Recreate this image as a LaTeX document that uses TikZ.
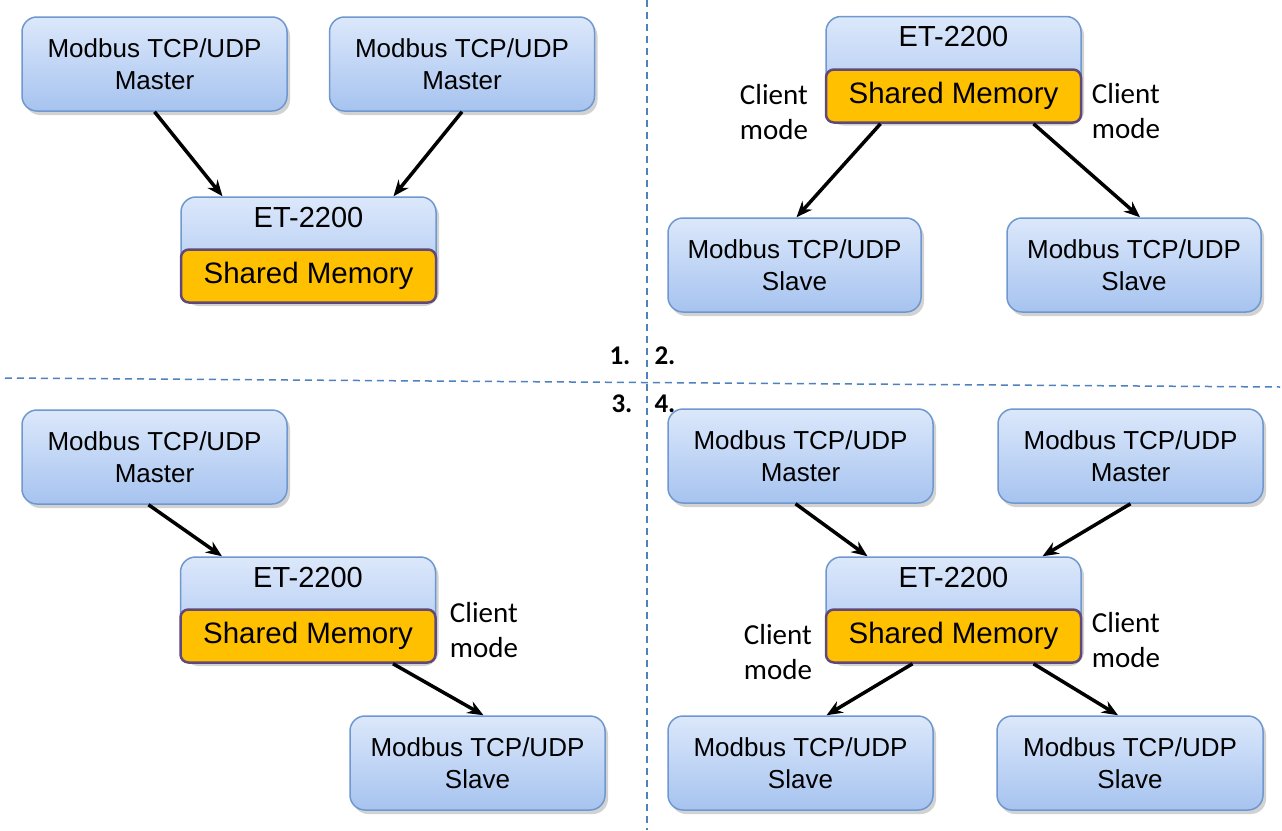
\documentclass[tikz,border=0pt]{standalone}
\usepackage{fontspec}
\setmainfont{Liberation Sans}
\newfontfamily\calib{Carlito}
\usetikzlibrary{shadows,arrows.meta}
\definecolor{boxtop}{HTML}{DCE8FB}
\definecolor{boxbot}{HTML}{A6C3EF}
\definecolor{boxline}{HTML}{6E98CF}
\definecolor{smfill}{HTML}{FFC000}
\definecolor{smline}{HTML}{60497A}
\definecolor{dashc}{HTML}{4F81BD}
\tikzset{
  bluebox/.style={draw=boxline, line width=1.5pt, rounded corners=15pt, top color=boxtop, bottom color=boxbot,
    drop shadow={shadow xshift=3pt, shadow yshift=-4pt, opacity=0.35, fill=gray},
    align=center, inner sep=0pt, font=\fontsize{26}{32}\selectfont},
  mbox/.style={bluebox, minimum width=265pt, minimum height=94pt},
  etbox/.style={bluebox, minimum width=255pt, minimum height=105pt, font=\fontsize{29}{32}\selectfont,
    text height=20pt, text depth=65pt},
  smbox/.style={draw=smline, line width=2.5pt, rounded corners=8pt, fill=smfill, minimum width=255pt,
    minimum height=53pt, inner sep=0pt, font=\fontsize{29.5}{32}\selectfont},
  cmode/.style={align=left, inner sep=0pt, font=\calib\fontsize{29}{35}\selectfont},
  num/.style={inner sep=0pt, font=\calib\bfseries\fontsize{27}{32}\selectfont},
  arr/.style={-{Stealth[length=16pt,width=13pt]}, line width=3.5pt, black},
  sep/.style={dashc, line width=1.5pt, dash pattern=on 7pt off 5pt}
}
\begin{document}
\begin{tikzpicture}[x=1pt,y=-1pt]
\useasboundingbox (0,0) rectangle (1282,830);
\fill[white] (0,0) rectangle (1282,830);
% separators
\coordinate (vt) at (647,0); \coordinate (vb) at (647,830);
\coordinate (hl) at (5,378); \coordinate (hr) at (1280,387);
\draw[sep] (vt) -- (vb);
\draw[sep] (hl) -- (hr);
\node[num] (n1) at (620,356) {1.};
\node[num] (n2) at (665,356) {2.};
\node[num] (n3) at (622,404) {3.};
\node[num] (n4) at (665,404) {4.};

% ---------- Quadrant 1
\node[mbox] (q1m1) at (154.5,64) {Modbus TCP/UDP\\Master};
\node[mbox] (q1m2) at (462,64) {Modbus TCP/UDP\\Master};
\node[etbox] (q1et) at (308.5,249.5) {ET-2200};
\node[smbox] (q1sm) at (308.5,276) {Shared Memory};
\draw[arr] (q1m1.south) -- ([xshift=-86pt]q1et.north);
\draw[arr] (q1m2.south) -- ([xshift=85pt]q1et.north);

% ---------- Quadrant 2
\node[etbox] (q2et) at (953.5,69) {ET-2200};
\node[smbox] (q2sm) at (953.5,96) {Shared Memory};
\node[mbox, minimum width=253pt] (q2s1) at (794.5,265) {Modbus TCP/UDP\\Slave};
\node[mbox, minimum width=254pt] (q2s2) at (1134,265) {Modbus TCP/UDP\\Slave};
\node[cmode] (q2c1) at (774,112) {Client\\mode};
\node[cmode] (q2c2) at (1126,111) {Client\\mode};
\draw[arr] ([xshift=-73pt]q2sm.south) -- ([xshift=2pt]q2s1.north);
\draw[arr] ([xshift=80pt]q2sm.south) -- ([xshift=6pt]q2s2.north);

% ---------- Quadrant 3
\node[mbox] (q3m) at (154.5,457) {Modbus TCP/UDP\\Master};
\node[etbox] (q3et) at (308,609.5) {ET-2200};
\node[smbox] (q3sm) at (308,636) {Shared Memory};
\node[mbox, minimum width=255pt] (q3s) at (477.5,763) {Modbus TCP/UDP\\Slave};
\node[cmode] (q3c) at (484,630) {Client\\mode};
\draw[arr] ([xshift=-6pt]q3m.south) -- ([xshift=-86pt]q3et.north);
\draw[arr] ([xshift=85pt]q3sm.south) -- ([xshift=6pt]q3s.north);

% ---------- Quadrant 4
\node[mbox] (q4m1) at (800.5,456) {Modbus TCP/UDP\\Master};
\node[mbox] (q4m2) at (1130.5,456) {Modbus TCP/UDP\\Master};
\node[etbox] (q4et) at (953.5,609.5) {ET-2200};
\node[smbox] (q4sm) at (953.5,636) {Shared Memory};
\node[mbox] (q4s1) at (800.5,763) {Modbus TCP/UDP\\Slave};
\node[mbox, minimum width=266pt] (q4s2) at (1130,763) {Modbus TCP/UDP\\Slave};
\node[cmode] (q4c1) at (778,652) {Client\\mode};
\node[cmode] (q4c2) at (1126,640) {Client\\mode};
\draw[arr] ([xshift=-5pt]q4m1.south) -- ([xshift=-86pt]q4et.north);
\draw[arr] (q4m2.south) -- ([xshift=89pt]q4et.north);
\draw[arr] ([xshift=-41pt]q4sm.south) -- ([xshift=26pt]q4s1.north);
\draw[arr] ([xshift=80pt]q4sm.south) -- ([xshift=-12pt]q4s2.north);
\end{tikzpicture}
\end{document}
